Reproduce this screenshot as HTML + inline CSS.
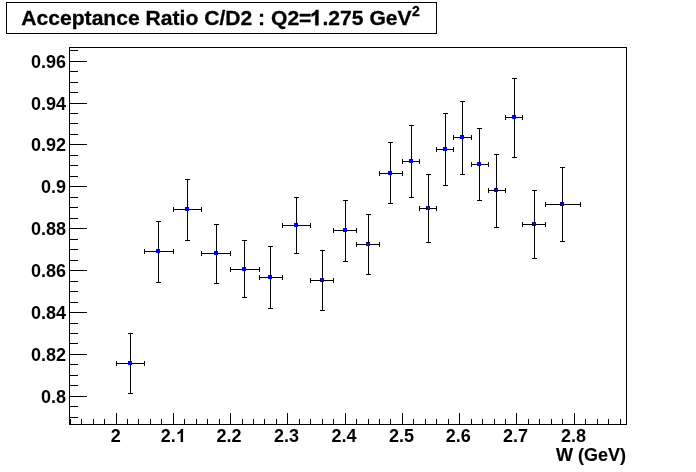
<!DOCTYPE html>
<html><head><meta charset="utf-8"><title>Acceptance Ratio</title>
<style>
html,body{margin:0;padding:0;background:#fff;}
body{width:696px;height:472px;position:relative;overflow:hidden;font-family:"Liberation Sans",sans-serif;font-weight:bold;color:#000;}
svg{position:absolute;left:0;top:0;}
.t{position:absolute;white-space:nowrap;}
.one{position:static;display:inline-block;width:0.5562em;height:0.7227em;vertical-align:baseline;fill:#000;stroke:#000;stroke-width:58;shape-rendering:auto;overflow:visible;}
#txt{position:absolute;left:0;top:0;width:696px;height:472px;will-change:transform;}
.yl{position:absolute;right:630px;width:60px;text-align:right;font-size:18px;line-height:20px;height:20px;white-space:nowrap;}
.xl{position:absolute;top:426px;width:60px;text-align:center;font-size:18px;line-height:20px;height:20px;white-space:nowrap;}
#title{left:21.3px;top:6px;font-size:21.1px;line-height:24px;}
#title .one{margin-left:-1.1px;margin-right:0.4px;}
#title{-webkit-text-stroke:0.3px #000;}
.xl .one{stroke-width:0;}
#title sup{font-size:14px;line-height:0;vertical-align:baseline;position:relative;top:-9px;left:0.4px;}
#xt{-webkit-text-stroke:0.15px #000;right:70px;top:445px;font-size:18px;line-height:20px;}
</style></head><body>
<svg width="696" height="472" viewBox="0 0 696 472" shape-rendering="crispEdges">
<rect x="69" y="47" width="558" height="1" fill="#000"/>
<rect x="69" y="424" width="558" height="1" fill="#000"/>
<rect x="69" y="47" width="1" height="378" fill="#000"/>
<rect x="626" y="47" width="1" height="378" fill="#000"/>
<rect x="6" y="2" width="431" height="1" fill="#000"/>
<rect x="6" y="33" width="431" height="1" fill="#000"/>
<rect x="6" y="2" width="1" height="32" fill="#000"/>
<rect x="436" y="2" width="1" height="32" fill="#000"/>
<rect x="70" y="419" width="1" height="5" fill="#000"/>
<rect x="81" y="419" width="1" height="5" fill="#000"/>
<rect x="93" y="419" width="1" height="5" fill="#000"/>
<rect x="104" y="419" width="1" height="5" fill="#000"/>
<rect x="116" y="413" width="1" height="11" fill="#000"/>
<rect x="127" y="419" width="1" height="5" fill="#000"/>
<rect x="138" y="419" width="1" height="5" fill="#000"/>
<rect x="150" y="419" width="1" height="5" fill="#000"/>
<rect x="161" y="419" width="1" height="5" fill="#000"/>
<rect x="173" y="413" width="1" height="11" fill="#000"/>
<rect x="184" y="419" width="1" height="5" fill="#000"/>
<rect x="196" y="419" width="1" height="5" fill="#000"/>
<rect x="207" y="419" width="1" height="5" fill="#000"/>
<rect x="219" y="419" width="1" height="5" fill="#000"/>
<rect x="230" y="413" width="1" height="11" fill="#000"/>
<rect x="242" y="419" width="1" height="5" fill="#000"/>
<rect x="253" y="419" width="1" height="5" fill="#000"/>
<rect x="264" y="419" width="1" height="5" fill="#000"/>
<rect x="276" y="419" width="1" height="5" fill="#000"/>
<rect x="287" y="413" width="1" height="11" fill="#000"/>
<rect x="299" y="419" width="1" height="5" fill="#000"/>
<rect x="310" y="419" width="1" height="5" fill="#000"/>
<rect x="322" y="419" width="1" height="5" fill="#000"/>
<rect x="333" y="419" width="1" height="5" fill="#000"/>
<rect x="345" y="413" width="1" height="11" fill="#000"/>
<rect x="356" y="419" width="1" height="5" fill="#000"/>
<rect x="368" y="419" width="1" height="5" fill="#000"/>
<rect x="379" y="419" width="1" height="5" fill="#000"/>
<rect x="390" y="419" width="1" height="5" fill="#000"/>
<rect x="402" y="413" width="1" height="11" fill="#000"/>
<rect x="413" y="419" width="1" height="5" fill="#000"/>
<rect x="425" y="419" width="1" height="5" fill="#000"/>
<rect x="436" y="419" width="1" height="5" fill="#000"/>
<rect x="448" y="419" width="1" height="5" fill="#000"/>
<rect x="459" y="413" width="1" height="11" fill="#000"/>
<rect x="471" y="419" width="1" height="5" fill="#000"/>
<rect x="482" y="419" width="1" height="5" fill="#000"/>
<rect x="494" y="419" width="1" height="5" fill="#000"/>
<rect x="505" y="419" width="1" height="5" fill="#000"/>
<rect x="516" y="413" width="1" height="11" fill="#000"/>
<rect x="528" y="419" width="1" height="5" fill="#000"/>
<rect x="539" y="419" width="1" height="5" fill="#000"/>
<rect x="551" y="419" width="1" height="5" fill="#000"/>
<rect x="562" y="419" width="1" height="5" fill="#000"/>
<rect x="574" y="413" width="1" height="11" fill="#000"/>
<rect x="585" y="419" width="1" height="5" fill="#000"/>
<rect x="597" y="419" width="1" height="5" fill="#000"/>
<rect x="608" y="419" width="1" height="5" fill="#000"/>
<rect x="620" y="419" width="1" height="5" fill="#000"/>
<rect x="69" y="417" width="9" height="1" fill="#000"/>
<rect x="69" y="406" width="9" height="1" fill="#000"/>
<rect x="69" y="396" width="18" height="1" fill="#000"/>
<rect x="69" y="385" width="9" height="1" fill="#000"/>
<rect x="69" y="375" width="9" height="1" fill="#000"/>
<rect x="69" y="364" width="9" height="1" fill="#000"/>
<rect x="69" y="354" width="18" height="1" fill="#000"/>
<rect x="69" y="343" width="9" height="1" fill="#000"/>
<rect x="69" y="333" width="9" height="1" fill="#000"/>
<rect x="69" y="323" width="9" height="1" fill="#000"/>
<rect x="69" y="312" width="18" height="1" fill="#000"/>
<rect x="69" y="302" width="9" height="1" fill="#000"/>
<rect x="69" y="291" width="9" height="1" fill="#000"/>
<rect x="69" y="281" width="9" height="1" fill="#000"/>
<rect x="69" y="270" width="18" height="1" fill="#000"/>
<rect x="69" y="260" width="9" height="1" fill="#000"/>
<rect x="69" y="249" width="9" height="1" fill="#000"/>
<rect x="69" y="239" width="9" height="1" fill="#000"/>
<rect x="69" y="228" width="18" height="1" fill="#000"/>
<rect x="69" y="218" width="9" height="1" fill="#000"/>
<rect x="69" y="207" width="9" height="1" fill="#000"/>
<rect x="69" y="197" width="9" height="1" fill="#000"/>
<rect x="69" y="186" width="18" height="1" fill="#000"/>
<rect x="69" y="176" width="9" height="1" fill="#000"/>
<rect x="69" y="165" width="9" height="1" fill="#000"/>
<rect x="69" y="155" width="9" height="1" fill="#000"/>
<rect x="69" y="144" width="18" height="1" fill="#000"/>
<rect x="69" y="134" width="9" height="1" fill="#000"/>
<rect x="69" y="123" width="9" height="1" fill="#000"/>
<rect x="69" y="113" width="9" height="1" fill="#000"/>
<rect x="69" y="103" width="18" height="1" fill="#000"/>
<rect x="69" y="92" width="9" height="1" fill="#000"/>
<rect x="69" y="82" width="9" height="1" fill="#000"/>
<rect x="69" y="71" width="9" height="1" fill="#000"/>
<rect x="69" y="61" width="18" height="1" fill="#000"/>
<rect x="69" y="50" width="9" height="1" fill="#000"/>
<rect x="116" y="363" width="29" height="1" fill="#000"/>
<rect x="130" y="333" width="1" height="61" fill="#000"/>
<rect x="116" y="361" width="1" height="5" fill="#000"/>
<rect x="144" y="361" width="1" height="5" fill="#000"/>
<rect x="128" y="333" width="5" height="1" fill="#000"/>
<rect x="128" y="393" width="5" height="1" fill="#000"/>
<rect x="128" y="361" width="4" height="4" fill="#0000ff"/>
<rect x="130" y="361" width="1" height="1" fill="#000"/>
<rect x="128" y="363" width="1" height="1" fill="#000"/>
<rect x="144" y="251" width="30" height="1" fill="#000"/>
<rect x="158" y="221" width="1" height="62" fill="#000"/>
<rect x="144" y="249" width="1" height="5" fill="#000"/>
<rect x="173" y="249" width="1" height="5" fill="#000"/>
<rect x="156" y="221" width="5" height="1" fill="#000"/>
<rect x="156" y="282" width="5" height="1" fill="#000"/>
<rect x="156" y="249" width="4" height="4" fill="#0000ff"/>
<rect x="158" y="249" width="1" height="1" fill="#000"/>
<rect x="156" y="251" width="1" height="1" fill="#000"/>
<rect x="173" y="209" width="29" height="1" fill="#000"/>
<rect x="187" y="179" width="1" height="62" fill="#000"/>
<rect x="173" y="207" width="1" height="5" fill="#000"/>
<rect x="201" y="207" width="1" height="5" fill="#000"/>
<rect x="185" y="179" width="5" height="1" fill="#000"/>
<rect x="185" y="240" width="5" height="1" fill="#000"/>
<rect x="185" y="207" width="4" height="4" fill="#0000ff"/>
<rect x="187" y="207" width="1" height="1" fill="#000"/>
<rect x="185" y="209" width="1" height="1" fill="#000"/>
<rect x="201" y="253" width="30" height="1" fill="#000"/>
<rect x="216" y="224" width="1" height="60" fill="#000"/>
<rect x="201" y="251" width="1" height="5" fill="#000"/>
<rect x="230" y="251" width="1" height="5" fill="#000"/>
<rect x="214" y="224" width="5" height="1" fill="#000"/>
<rect x="214" y="283" width="5" height="1" fill="#000"/>
<rect x="214" y="251" width="4" height="4" fill="#0000ff"/>
<rect x="216" y="251" width="1" height="1" fill="#000"/>
<rect x="214" y="253" width="1" height="1" fill="#000"/>
<rect x="230" y="269" width="30" height="1" fill="#000"/>
<rect x="244" y="240" width="1" height="58" fill="#000"/>
<rect x="230" y="267" width="1" height="5" fill="#000"/>
<rect x="259" y="267" width="1" height="5" fill="#000"/>
<rect x="242" y="240" width="5" height="1" fill="#000"/>
<rect x="242" y="297" width="5" height="1" fill="#000"/>
<rect x="242" y="267" width="4" height="4" fill="#0000ff"/>
<rect x="244" y="267" width="1" height="1" fill="#000"/>
<rect x="242" y="269" width="1" height="1" fill="#000"/>
<rect x="259" y="277" width="24" height="1" fill="#000"/>
<rect x="270" y="246" width="1" height="63" fill="#000"/>
<rect x="259" y="275" width="1" height="5" fill="#000"/>
<rect x="282" y="275" width="1" height="5" fill="#000"/>
<rect x="268" y="246" width="5" height="1" fill="#000"/>
<rect x="268" y="308" width="5" height="1" fill="#000"/>
<rect x="268" y="275" width="4" height="4" fill="#0000ff"/>
<rect x="270" y="275" width="1" height="1" fill="#000"/>
<rect x="268" y="277" width="1" height="1" fill="#000"/>
<rect x="282" y="225" width="29" height="1" fill="#000"/>
<rect x="296" y="197" width="1" height="57" fill="#000"/>
<rect x="282" y="223" width="1" height="5" fill="#000"/>
<rect x="310" y="223" width="1" height="5" fill="#000"/>
<rect x="294" y="197" width="5" height="1" fill="#000"/>
<rect x="294" y="253" width="5" height="1" fill="#000"/>
<rect x="294" y="223" width="4" height="4" fill="#0000ff"/>
<rect x="296" y="223" width="1" height="1" fill="#000"/>
<rect x="294" y="225" width="1" height="1" fill="#000"/>
<rect x="310" y="280" width="24" height="1" fill="#000"/>
<rect x="322" y="250" width="1" height="61" fill="#000"/>
<rect x="310" y="278" width="1" height="5" fill="#000"/>
<rect x="333" y="278" width="1" height="5" fill="#000"/>
<rect x="320" y="250" width="5" height="1" fill="#000"/>
<rect x="320" y="310" width="5" height="1" fill="#000"/>
<rect x="320" y="278" width="4" height="4" fill="#0000ff"/>
<rect x="322" y="278" width="1" height="1" fill="#000"/>
<rect x="320" y="280" width="1" height="1" fill="#000"/>
<rect x="333" y="230" width="24" height="1" fill="#000"/>
<rect x="345" y="200" width="1" height="62" fill="#000"/>
<rect x="333" y="228" width="1" height="5" fill="#000"/>
<rect x="356" y="228" width="1" height="5" fill="#000"/>
<rect x="343" y="200" width="5" height="1" fill="#000"/>
<rect x="343" y="261" width="5" height="1" fill="#000"/>
<rect x="343" y="228" width="4" height="4" fill="#0000ff"/>
<rect x="345" y="228" width="1" height="1" fill="#000"/>
<rect x="343" y="230" width="1" height="1" fill="#000"/>
<rect x="356" y="244" width="24" height="1" fill="#000"/>
<rect x="368" y="214" width="1" height="61" fill="#000"/>
<rect x="356" y="242" width="1" height="5" fill="#000"/>
<rect x="379" y="242" width="1" height="5" fill="#000"/>
<rect x="366" y="214" width="5" height="1" fill="#000"/>
<rect x="366" y="274" width="5" height="1" fill="#000"/>
<rect x="366" y="242" width="4" height="4" fill="#0000ff"/>
<rect x="368" y="242" width="1" height="1" fill="#000"/>
<rect x="366" y="244" width="1" height="1" fill="#000"/>
<rect x="379" y="173" width="24" height="1" fill="#000"/>
<rect x="390" y="142" width="1" height="62" fill="#000"/>
<rect x="379" y="171" width="1" height="5" fill="#000"/>
<rect x="402" y="171" width="1" height="5" fill="#000"/>
<rect x="388" y="142" width="5" height="1" fill="#000"/>
<rect x="388" y="203" width="5" height="1" fill="#000"/>
<rect x="388" y="171" width="4" height="4" fill="#0000ff"/>
<rect x="390" y="171" width="1" height="1" fill="#000"/>
<rect x="388" y="173" width="1" height="1" fill="#000"/>
<rect x="402" y="161" width="18" height="1" fill="#000"/>
<rect x="411" y="125" width="1" height="73" fill="#000"/>
<rect x="402" y="159" width="1" height="5" fill="#000"/>
<rect x="419" y="159" width="1" height="5" fill="#000"/>
<rect x="409" y="125" width="5" height="1" fill="#000"/>
<rect x="409" y="197" width="5" height="1" fill="#000"/>
<rect x="409" y="159" width="4" height="4" fill="#0000ff"/>
<rect x="411" y="159" width="1" height="1" fill="#000"/>
<rect x="409" y="161" width="1" height="1" fill="#000"/>
<rect x="419" y="208" width="18" height="1" fill="#000"/>
<rect x="428" y="174" width="1" height="69" fill="#000"/>
<rect x="419" y="206" width="1" height="5" fill="#000"/>
<rect x="436" y="206" width="1" height="5" fill="#000"/>
<rect x="426" y="174" width="5" height="1" fill="#000"/>
<rect x="426" y="242" width="5" height="1" fill="#000"/>
<rect x="426" y="206" width="4" height="4" fill="#0000ff"/>
<rect x="428" y="206" width="1" height="1" fill="#000"/>
<rect x="426" y="208" width="1" height="1" fill="#000"/>
<rect x="436" y="149" width="18" height="1" fill="#000"/>
<rect x="445" y="113" width="1" height="73" fill="#000"/>
<rect x="436" y="147" width="1" height="5" fill="#000"/>
<rect x="453" y="147" width="1" height="5" fill="#000"/>
<rect x="443" y="113" width="5" height="1" fill="#000"/>
<rect x="443" y="185" width="5" height="1" fill="#000"/>
<rect x="443" y="147" width="4" height="4" fill="#0000ff"/>
<rect x="445" y="147" width="1" height="1" fill="#000"/>
<rect x="443" y="149" width="1" height="1" fill="#000"/>
<rect x="453" y="137" width="19" height="1" fill="#000"/>
<rect x="462" y="101" width="1" height="74" fill="#000"/>
<rect x="453" y="135" width="1" height="5" fill="#000"/>
<rect x="471" y="135" width="1" height="5" fill="#000"/>
<rect x="460" y="101" width="5" height="1" fill="#000"/>
<rect x="460" y="174" width="5" height="1" fill="#000"/>
<rect x="460" y="135" width="4" height="4" fill="#0000ff"/>
<rect x="462" y="135" width="1" height="1" fill="#000"/>
<rect x="460" y="137" width="1" height="1" fill="#000"/>
<rect x="471" y="164" width="18" height="1" fill="#000"/>
<rect x="479" y="128" width="1" height="73" fill="#000"/>
<rect x="471" y="162" width="1" height="5" fill="#000"/>
<rect x="488" y="162" width="1" height="5" fill="#000"/>
<rect x="477" y="128" width="5" height="1" fill="#000"/>
<rect x="477" y="200" width="5" height="1" fill="#000"/>
<rect x="477" y="162" width="4" height="4" fill="#0000ff"/>
<rect x="479" y="162" width="1" height="1" fill="#000"/>
<rect x="477" y="164" width="1" height="1" fill="#000"/>
<rect x="488" y="190" width="18" height="1" fill="#000"/>
<rect x="496" y="154" width="1" height="74" fill="#000"/>
<rect x="488" y="188" width="1" height="5" fill="#000"/>
<rect x="505" y="188" width="1" height="5" fill="#000"/>
<rect x="494" y="154" width="5" height="1" fill="#000"/>
<rect x="494" y="227" width="5" height="1" fill="#000"/>
<rect x="494" y="188" width="4" height="4" fill="#0000ff"/>
<rect x="496" y="188" width="1" height="1" fill="#000"/>
<rect x="494" y="190" width="1" height="1" fill="#000"/>
<rect x="505" y="117" width="18" height="1" fill="#000"/>
<rect x="514" y="78" width="1" height="80" fill="#000"/>
<rect x="505" y="115" width="1" height="5" fill="#000"/>
<rect x="522" y="115" width="1" height="5" fill="#000"/>
<rect x="512" y="78" width="5" height="1" fill="#000"/>
<rect x="512" y="157" width="5" height="1" fill="#000"/>
<rect x="512" y="115" width="4" height="4" fill="#0000ff"/>
<rect x="514" y="115" width="1" height="1" fill="#000"/>
<rect x="512" y="117" width="1" height="1" fill="#000"/>
<rect x="522" y="224" width="24" height="1" fill="#000"/>
<rect x="534" y="190" width="1" height="69" fill="#000"/>
<rect x="522" y="222" width="1" height="5" fill="#000"/>
<rect x="545" y="222" width="1" height="5" fill="#000"/>
<rect x="532" y="190" width="5" height="1" fill="#000"/>
<rect x="532" y="258" width="5" height="1" fill="#000"/>
<rect x="532" y="222" width="4" height="4" fill="#0000ff"/>
<rect x="534" y="222" width="1" height="1" fill="#000"/>
<rect x="532" y="224" width="1" height="1" fill="#000"/>
<rect x="545" y="204" width="36" height="1" fill="#000"/>
<rect x="562" y="167" width="1" height="75" fill="#000"/>
<rect x="545" y="202" width="1" height="5" fill="#000"/>
<rect x="580" y="202" width="1" height="5" fill="#000"/>
<rect x="560" y="167" width="5" height="1" fill="#000"/>
<rect x="560" y="241" width="5" height="1" fill="#000"/>
<rect x="560" y="202" width="4" height="4" fill="#0000ff"/>
<rect x="562" y="202" width="1" height="1" fill="#000"/>
<rect x="560" y="204" width="1" height="1" fill="#000"/>
</svg>
<div id="txt">
<div id="title" class="t">Acceptance Ratio C/D2 : Q2=<svg class="one" viewBox="0 -1480 1139 1480"><path d="M806 0H525V-1059Q371 -915 162 -846V-1101Q272 -1137 401 -1237.5Q530 -1338 578 -1472H806Z"/></svg>.275 GeV<sup>2</sup></div>
<div class="yl" style="top:387px">0.8</div>
<div class="yl" style="top:345px">0.82</div>
<div class="yl" style="top:303px">0.84</div>
<div class="yl" style="top:261px">0.86</div>
<div class="yl" style="top:219px">0.88</div>
<div class="yl" style="top:177px">0.9</div>
<div class="yl" style="top:135px">0.92</div>
<div class="yl" style="top:94px">0.94</div>
<div class="yl" style="top:52px">0.96</div>
<div class="xl" style="left:85.8px">2</div>
<div class="xl" style="left:143.3px">2.<svg class="one" viewBox="0 -1480 1139 1480"><path d="M806 0H525V-1059Q371 -915 162 -846V-1101Q272 -1137 401 -1237.5Q530 -1338 578 -1472H806Z"/></svg></div>
<div class="xl" style="left:199.1px">2.2</div>
<div class="xl" style="left:256.4px">2.3</div>
<div class="xl" style="left:314.1px">2.4</div>
<div class="xl" style="left:371.4px">2.5</div>
<div class="xl" style="left:428.2px">2.6</div>
<div class="xl" style="left:485.5px">2.7</div>
<div class="xl" style="left:543.4px">2.8</div>
<div id="xt" class="t">W (GeV)</div>
</div>
</body></html>
